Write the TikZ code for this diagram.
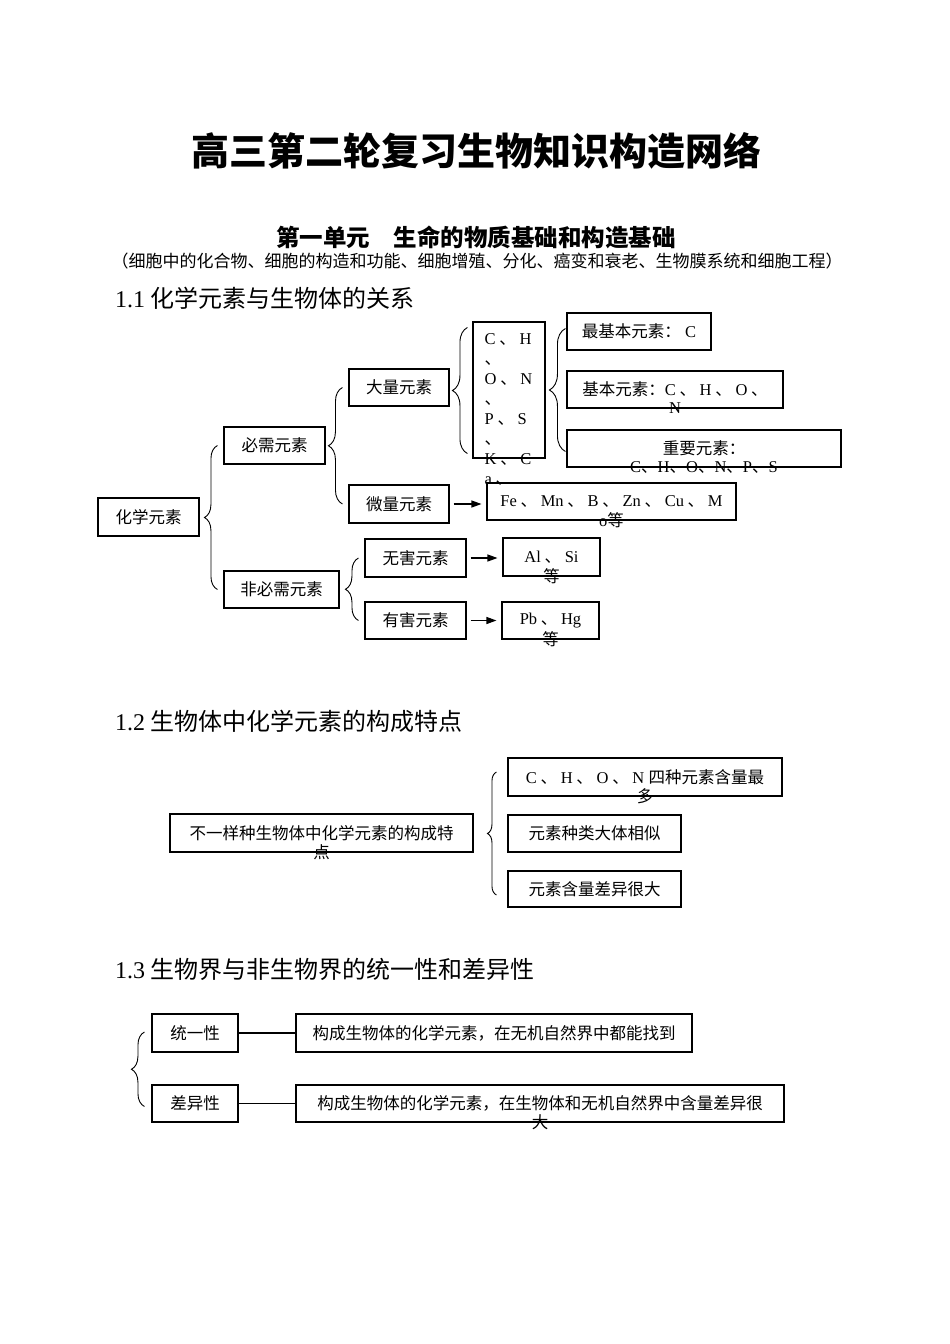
\documentclass[tikz,border=0pt]{standalone}
\usepackage{fontspec}
\setmainfont{Noto Sans CJK SC}
\newfontfamily\lat{Liberation Serif}
\newcommand\en[1]{{\lat #1}}
\usepackage{tikz}
\usetikzlibrary{arrows.meta,decorations.pathreplacing}

\begin{document}
\begin{tikzpicture}[x=1pt,y=-1pt,
    box/.style 2 args={draw,line width=1.1pt,inner sep=0pt,minimum width=#1,minimum height=#2,font=\fontsize{16.5}{20}\selectfont},
    txt/.style={inner sep=0pt,font=\fontsize{16.5}{20}\selectfont},
    hd/.style={inner sep=0pt,anchor=west,font=\fontsize{24}{28}\selectfont},
    brc/.style={decorate,decoration={brace,amplitude=#1},line width=0.9pt},
    arr/.style={-{Triangle[length=10pt,width=7pt]},line width=1.1pt,shorten <=4pt,shorten >=5pt}]
    \useasboundingbox (0,0) rectangle (950,1344);

    \node [inner sep=0pt,font=\bfseries\fontsize{38}{44}\selectfont] (title) at (476,151) {高三第二轮复习生物知识构造网络};
    \node [inner sep=0pt,font=\bfseries\fontsize{23.5}{28}\selectfont] (unit) at (476,237) {第一单元\hspace{24pt}生命的物质基础和构造基础};
    \node [txt,font=\fontsize{17}{20}\selectfont] (sub) at (477,261) {（细胞中的化合物、细胞的构造和功能、细胞增殖、分化、癌变和衰老、生物膜系统和细胞工程）};

    % 1.1
    \node [hd] (h1) at (115,298) {\en{1.1} 化学元素与生物体的关系};
    \node [box={101pt}{38pt}] (hx) at (148.5,517) {化学元素};
    \node [box={101pt}{37pt}] (bx) at (274.5,445.5) {必需元素};
    \node [box={115pt}{37pt}] (fbx) at (281.5,589.5) {非必需元素};
    \node [box={100pt}{37pt}] (dl) at (399,387.5) {大量元素};
    \node [box={100pt}{38pt}] (wl) at (399,504) {微量元素};
    \node [box={101pt}{38pt}] (wh) at (415.5,558) {无害元素};
    \node [box={101pt}{37pt}] (yh) at (415.5,620.5) {有害元素};
    \node [box={72pt}{136pt}] (chon) at (509,390) {};
    \node [txt,anchor=north west,align=left] (chont) at ([xshift=12pt,yshift=-12pt]chon.north west)
        {\en{C} 、 \en{H}\\、\\\en{O} 、 \en{N}\\、\\\en{P} 、 \en{S}\\、\\\en{K} 、 \en{C}\\\en{a} 、};
    \node [box={144pt}{37pt}] (zjb) at (639,331.5) {最基本元素：\en{ C}};
    \node [box={216pt}{37pt}] (jb) at (675,389.5) {基本元素：\en{C} 、 \en{H} 、 \en{O} 、};
    \node [txt] (jbb) at (jb.south) {\en{N}};
    \node [box={274pt}{37pt}] (zy) at (704,448.5) {重要元素：};
    \node [txt] (zyb) at (zy.south) {\en{C}、\en{H}、\en{O}、\en{N}、\en{P}、\en{S}};
    \node [box={249pt}{37pt}] (fe) at (611.5,501.5) {\en{Fe} 、 \en{Mn} 、 \en{B} 、 \en{Zn} 、 \en{Cu} 、 \en{M}};
    \node [txt] (feb) at (fe.south) {\en{o}等};
    \node [box={97pt}{38pt}] (al) at (551.5,557) {\en{Al} 、 \en{Si}};
    \node [txt] (alb) at (al.south) {等};
    \node [box={97pt}{37pt}] (pb) at (550.5,620.5) {\en{Pb} 、 \en{Hg}};
    \node [txt] (pbb) at (pb.south) {等};

    \draw [brc=13pt] ([xshift=-6pt]fbx.west) -- ([xshift=-6pt]bx.west);
    \draw [brc=14pt] ([xshift=-6pt]wl.west) -- ([xshift=-6pt]dl.west);
    \draw [brc=13pt] ([xshift=-6pt]yh.west) -- ([xshift=-6pt]wh.west);
    \draw [brc=15pt] ([xshift=-5pt,yshift=5pt]chon.south west) -- ([xshift=-5pt,yshift=-6pt]chon.north west);
    \draw [brc=16pt] ([xshift=-1pt,yshift=-3pt]zy.west) -- ([xshift=-1pt,yshift=3pt]zjb.west);
    \draw [arr] (wl.east) -- (wl.east -| fe.west);
    \draw [arr] (wh.east) -- (wh.east -| al.west);
    \draw [arr] (yh.east) -- (yh.east -| pb.west);

    % 1.2
    \node [hd] (h2) at (115,721) {\en{1.2} 生物体中化学元素的构成特点};
    \node [box={303pt}{38pt}] (bys) at (321.5,833) {不一样种生物体中化学元素的构成特};
    \node [txt] (bysb) at (bys.south) {点};
    \node [box={274pt}{38pt}] (c1) at (645,777) {\en{C} 、 \en{H} 、 \en{O} 、 \en{N }四种元素含量最};
    \node [txt] (c1b) at (c1.south) {多};
    \node [box={173pt}{37pt}] (c2) at (594.5,833.5) {元素种类大体相似};
    \node [box={173pt}{36pt}] (c3) at (594.5,889) {元素含量差异很大};
    \draw [brc=9pt] ([xshift=-11pt,yshift=-6pt]c3.west) -- ([xshift=-11pt,yshift=5pt]c1.west);

    % 1.3
    \node [hd] (h3) at (115,969) {\en{1.3} 生物界与非生物界的统一性和差异性};
    \node [box={86pt}{38pt}] (tyx) at (195,1033) {统一性};
    \node [box={86pt}{37pt}] (cyx) at (195,1103.5) {差异性};
    \node [box={396pt}{38pt}] (d1) at (494,1033) {构成生物体的化学元素，在无机自然界中都能找到};
    \node [box={488pt}{37pt}] (d2) at (540,1103.5) {构成生物体的化学元素，在生物体和无机自然界中含量差异很};
    \node [txt] (d2b) at (d2.south) {大};
    \draw [line width=1.1pt] (tyx.east) -- (tyx.east -| d1.west);
    \draw [line width=1.1pt] (cyx.east) -- (cyx.east -| d2.west);
    \draw [brc=13pt] ([xshift=-7pt,yshift=-3pt]cyx.west) -- ([xshift=-7pt,yshift=1pt]tyx.west);
\end{tikzpicture}
\end{document}
